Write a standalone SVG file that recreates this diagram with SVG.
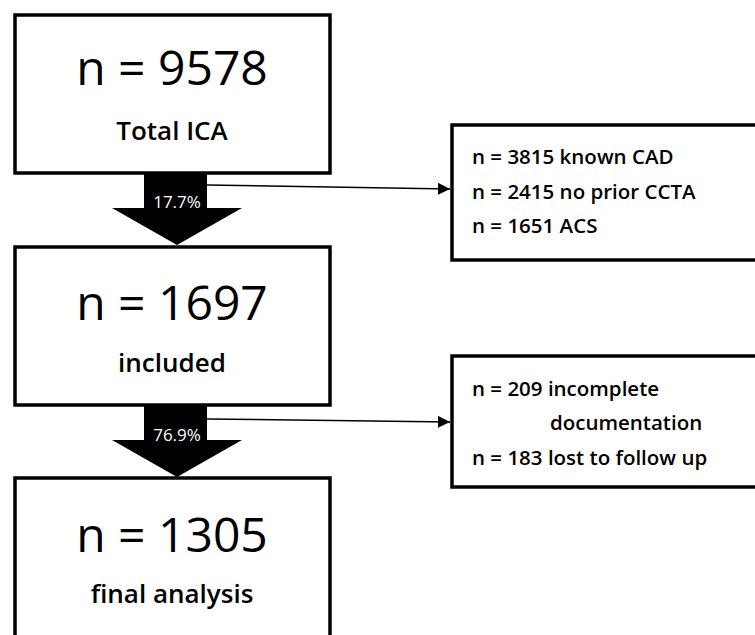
<svg xmlns="http://www.w3.org/2000/svg" width="755" height="635" viewBox="0 0 755 635">
<style>
.box{fill:#fff;stroke:#000;stroke-width:3.5}
.big{font-family:"Open Sans","Liberation Sans",sans-serif;font-size:48px;fill:#000;text-anchor:middle}
.sub{font-family:"Open Sans","Liberation Sans",sans-serif;font-size:26px;font-weight:600;fill:#000;text-anchor:middle}
.side{font-family:"Open Sans","Liberation Sans",sans-serif;font-size:20.5px;font-weight:600;fill:#000}
.pct{font-family:"Open Sans","Liberation Sans",sans-serif;font-size:17px;fill:#fff;text-anchor:middle}
.flow{fill:#000}
.line{stroke:#000;stroke-width:1.5;fill:none}
</style>
<defs>
<marker id="ah" viewBox="0 0 10 10" refX="10" refY="5" markerWidth="12" markerHeight="12" markerUnits="userSpaceOnUse" orient="auto">
<path d="M0,0 L10,5 L0,10 z" fill="#000"/>
</marker>
</defs>
<g id="connectors">
<path class="flow" d="M144,173 H207 V208 H242 L177,245 L112,208 H144 Z"/>
<text class="pct" x="177" y="208">17.7%</text>
<path class="line" d="M207,185 L450,189" marker-end="url(#ah)"/>
<path class="flow" d="M144,405 H207 V440 H242 L177,477 L112,440 H144 Z"/>
<text class="pct" x="177" y="441">76.9%</text>
<path class="line" d="M207,419 L450,422" marker-end="url(#ah)"/>
</g>
<g id="node-total">
<rect class="box" x="15" y="15" width="315" height="158"/>
<text class="big" x="172" y="85">n = 9578</text>
<text class="sub" x="172" y="140">Total ICA</text>
</g>
<g id="node-included">
<rect class="box" x="15" y="247" width="315" height="158"/>
<text class="big" x="172" y="320">n = 1697</text>
<text class="sub" x="172" y="372">included</text>
</g>
<g id="node-final">
<rect class="box" x="15" y="478" width="315" height="170"/>
<text class="big" x="172" y="552">n = 1305</text>
<text class="sub" x="172" y="603">final analysis</text>
</g>
<g id="node-excluded1">
<rect class="box" x="452" y="125" width="320" height="135"/>
<text class="side" x="472" y="164">n = 3815 known CAD</text>
<text class="side" x="472" y="199">n = 2415 no prior CCTA</text>
<text class="side" x="472" y="233">n = 1651 ACS</text>
</g>
<g id="node-excluded2">
<rect class="box" x="452" y="356" width="320" height="131"/>
<text class="side" x="472" y="396">n = 209 incomplete</text>
<text class="side" x="550" y="430">documentation</text>
<text class="side" x="472" y="465">n = 183 lost to follow up</text>
</g>
</svg>
